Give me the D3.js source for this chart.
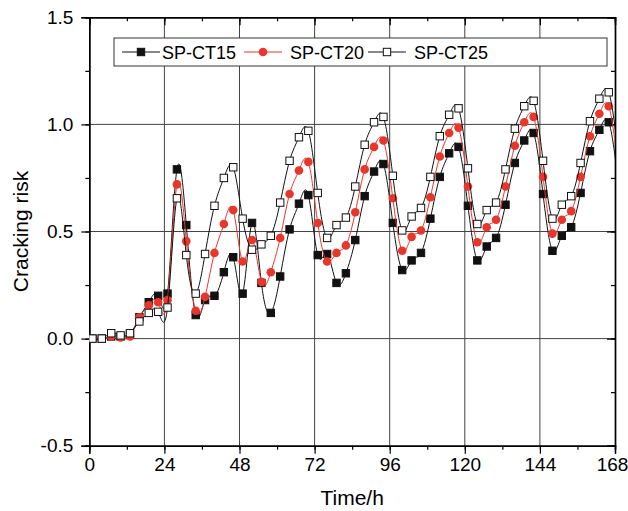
<!DOCTYPE html>
<html>
<head>
<meta charset="utf-8">
<script src="https://cdn.jsdelivr.net/npm/d3@7"></script>
<style>
  body { margin: 0; background: #fff; }
  svg { display: block; }
  text { font-family: "Liberation Sans", Arial, sans-serif; fill: #000; }
</style>
</head>
<body>
<div id="chart"></div>
<script>
// time of each sample (h); the last one lies just past the axis end
var hours = [1, 4, 7, 10, 13, 16, 19, 22, 25, 28, 31, 34, 37, 40, 43, 46, 49, 52, 55, 58,
  61, 64, 67, 70, 73, 76, 79, 82, 85, 88, 91, 94, 97, 100, 103, 106, 109, 112, 115, 118,
  121, 124, 127, 130, 133, 136, 139, 142, 145, 148, 151, 154, 157, 160, 163, 166, 169];

var ct15 = [0, 0, 0.01, 0.01, 0.02, 0.10, 0.17, 0.20, 0.21, 0.79, 0.53, 0.11, 0.18, 0.20, 0.31, 0.38, 0.21, 0.54, 0.26, 0.12,
  0.29, 0.51, 0.63, 0.67, 0.39, 0.395, 0.26, 0.305, 0.46, 0.665, 0.78, 0.815, 0.54, 0.32, 0.365, 0.40, 0.56, 0.755, 0.865, 0.895,
  0.62, 0.365, 0.43, 0.47, 0.625, 0.82, 0.925, 0.96, 0.675, 0.41, 0.48, 0.52, 0.68, 0.875, 0.975, 1.01, 0.74];

var ct20 = [0, 0, 0.01, 0.005, 0.01, 0.10, 0.155, 0.17, 0.18, 0.72, 0.455, 0.13, 0.195, 0.40, 0.535, 0.60, 0.36, 0.46, 0.265, 0.31,
  0.47, 0.675, 0.785, 0.825, 0.54, 0.36, 0.40, 0.435, 0.59, 0.79, 0.895, 0.925, 0.655, 0.41, 0.475, 0.505, 0.66, 0.85, 0.96, 0.985,
  0.71, 0.45, 0.52, 0.555, 0.71, 0.90, 1.01, 1.035, 0.755, 0.49, 0.555, 0.595, 0.755, 0.945, 1.05, 1.085, 0.80];

var ct25 = [0, 0, 0.025, 0.015, 0.025, 0.08, 0.12, 0.125, 0.145, 0.655, 0.39, 0.21, 0.395, 0.62, 0.75, 0.80, 0.56, 0.415, 0.44, 0.48,
  0.635, 0.83, 0.94, 0.97, 0.68, 0.47, 0.53, 0.565, 0.71, 0.905, 1.01, 1.035, 0.76, 0.505, 0.57, 0.61, 0.755, 0.945, 1.045, 1.075,
  0.795, 0.535, 0.60, 0.635, 0.79, 0.98, 1.085, 1.11, 0.83, 0.56, 0.625, 0.665, 0.82, 1.015, 1.12, 1.15, 0.87];

var seriesNames = ["SP-CT15", "SP-CT20", "SP-CT25"];
var xTicks = [0, 24, 48, 72, 96, 120, 144, 168];
var yTicks = [-0.5, 0.0, 0.5, 1.0, 1.5];
var xMinor = [0, 12, 24, 36, 48, 60, 72, 84, 96, 108, 120, 132, 144, 156, 168];
var yMinor = [-0.5, -0.25, 0, 0.25, 0.5, 0.75, 1.0, 1.25, 1.5];

var width = 628, height = 511;
var margin = {top: 17.3, right: 13, bottom: 65.3, left: 89.3};
var w = width - margin.left - margin.right,
    h = height - margin.top - margin.bottom;

var x = d3.scaleLinear().domain([0, 168]).range([0, w]);
var y = d3.scaleLinear().domain([-0.5, 1.5]).range([h, 0]);

var svg = d3.select("#chart").append("svg")
  .attr("width", width).attr("height", height);
var g = svg.append("g")
  .attr("transform", "translate(" + margin.left + "," + margin.top + ")");

svg.append("defs").append("clipPath").attr("id", "plotclip")
  .append("rect").attr("width", w).attr("height", h);

// grid
g.selectAll(".vgrid").data(xTicks.slice(1, -1)).enter().append("line")
  .attr("x1", x).attr("x2", x).attr("y1", 0).attr("y2", h)
  .style("stroke", "#444").style("stroke-width", 1);
g.selectAll(".hgrid").data([0, 0.5, 1.0]).enter().append("line")
  .attr("x1", 0).attr("x2", w).attr("y1", y).attr("y2", y)
  .style("stroke", "#444").style("stroke-width", 1);

// axes
var fmtY = function(d) { return d3.format(".1f")(d).replace("\u2212", "-"); };

var axB = g.append("g").attr("transform", "translate(0," + h + ")");
axB.call(d3.axisBottom(x).tickValues(xMinor).tickSize(4).tickFormat(""));
axB.append("g").call(d3.axisBottom(x).tickValues(xTicks).tickSize(8).tickPadding(4).tickFormat(d3.format("d")));

var axL = g.append("g");
axL.call(d3.axisLeft(y).tickValues(yMinor).tickSize(4).tickFormat(""));
axL.append("g").call(d3.axisLeft(y).tickValues(yTicks).tickSize(8).tickPadding(8).tickFormat(fmtY));

var axT = g.append("g");
axT.call(d3.axisBottom(x).tickValues(xMinor).tickSize(4).tickFormat(""));
axT.append("g").call(d3.axisBottom(x).tickValues(xTicks).tickSize(8).tickFormat(""));

var axR = g.append("g").attr("transform", "translate(" + w + ",0)");
axR.call(d3.axisLeft(y).tickValues(yMinor).tickSize(4).tickFormat(""));
axR.append("g").call(d3.axisLeft(y).tickValues(yTicks).tickSize(8).tickFormat(""));

g.selectAll(".domain").style("stroke", "#000").style("stroke-width", 1.4);
g.selectAll(".tick line").style("stroke", "#000").style("stroke-width", 1.2);
g.selectAll(".tick text").style("font-size", "19px").style("fill", "#000")
  .style("font-family", "'Liberation Sans', Arial, sans-serif");
// keep the last x label inside the page
axB.selectAll(".tick text").filter(function(d) { return d === 168; }).attr("dx", "-3");

// titles
svg.append("text")
  .attr("x", margin.left + w / 2).attr("y", 505)
  .attr("text-anchor", "middle").style("font-size", "21px")
  .text("Time/h");
svg.append("text")
  .attr("transform", "translate(28," + (margin.top + h / 2) + ") rotate(-90)")
  .attr("text-anchor", "middle").style("font-size", "21px")
  .text("Cracking risk");

// series
var series = [
  {name: seriesNames[0], values: ct15, line: "#111", fill: "#111", stroke: "#111", shape: "square"},
  {name: seriesNames[1], values: ct20, line: "#e8362b", fill: "#e8362b", stroke: "#e8362b", shape: "circle"},
  {name: seriesNames[2], values: ct25, line: "#111", fill: "#fff", stroke: "#111", shape: "square"}
];

var line = d3.line()
  .x(function(d) { return x(d[0]); })
  .y(function(d) { return y(d[1]); })
  .curve(d3.curveNatural);

var plot = g.append("g").attr("clip-path", "url(#plotclip)");

function drawMarker(sel, s, px, py) {
  if (s.shape === "circle") {
    sel.append("circle").attr("cx", px).attr("cy", py).attr("r", 4.3)
      .style("fill", s.fill).style("stroke", "none");
  } else {
    sel.append("rect").attr("x", px - 3.7).attr("y", py - 3.7)
      .attr("width", 7.4).attr("height", 7.4)
      .style("fill", s.fill).style("stroke", s.stroke).style("stroke-width", 1);
  }
}

series.forEach(function(s) {
  var pts = hours.map(function(t, i) { return [t, s.values[i]]; });
  plot.append("path").datum(pts)
    .attr("d", line)
    .style("fill", "none").style("stroke", s.line).style("stroke-width", 1);
  var mg = plot.append("g");
  pts.forEach(function(p) {
    if (p[0] <= 168) drawMarker(mg, s, x(p[0]), y(p[1]));
  });
});

// legend
var lg = svg.append("g");
lg.append("rect").attr("x", 114).attr("y", 38).attr("width", 493).attr("height", 28)
  .style("fill", "#fff").style("stroke", "#333").style("stroke-width", 1);
var legPos = [{x0: 122, tx: 162}, {x0: 244, tx: 290}, {x0: 368, tx: 414}];
series.forEach(function(s, i) {
  var lx = legPos[i].x0, ly = 52;
  lg.append("line").attr("x1", lx).attr("x2", lx + 38).attr("y1", ly).attr("y2", ly)
    .style("stroke", s.line).style("stroke-width", 1);
  drawMarker(lg, s, lx + 19, ly);
  lg.append("text").attr("x", legPos[i].tx).attr("y", ly + 6.5)
    .style("font-size", "18px").text(s.name);
});
</script>
</body>
</html>
